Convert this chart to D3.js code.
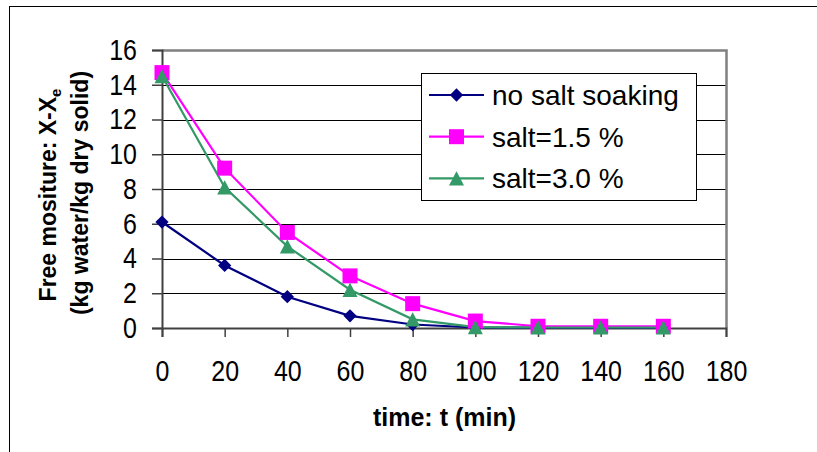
<!DOCTYPE html>
<html>
<head>
<meta charset="utf-8">
<script src="https://cdn.jsdelivr.net/npm/d3@7/dist/d3.min.js"></script>
<style>
  html, body { margin: 0; padding: 0; background: #fff; }
  svg { display: block; font-family: Arial, "Liberation Sans", sans-serif; }
</style>
</head>
<body>
<svg id="chart" width="817" height="452"></svg>
<script>
// Drying time (min)
const times = [0, 20, 40, 60, 80, 100, 120, 140, 160];
// Free moisture X - Xe (kg water / kg dry solid)
const noSalt  = [6.1, 3.6, 1.8, 0.7, 0.2, 0.03, 0.02, 0.02, 0.02];
const salt15  = [14.7, 9.2, 5.5, 3.0, 1.4, 0.4, 0.1, 0.1, 0.1];
const salt30  = [14.5, 8.1, 4.7, 2.2, 0.5, 0.05, 0.03, 0.03, 0.03];
const seriesNames = ["no salt soaking", "salt=1.5 %", "salt=3.0 %"];
const xTicks = [0, 20, 40, 60, 80, 100, 120, 140, 160, 180];
const yTicks = [0, 2, 4, 6, 8, 10, 12, 14, 16];

// upright triangle centred on its bounding box
const boxTriangle = {
  draw(ctx, size) {
    const w = Math.sqrt(size) / 2, h = w * 0.95;
    ctx.moveTo(0, -h);
    ctx.lineTo(w, h);
    ctx.lineTo(-w, h);
    ctx.closePath();
  }
};

const series = [
  { name: seriesNames[0], values: noSalt, color: "#000080", symbol: d3.symbolDiamond2, size: 112 },
  { name: seriesNames[1], values: salt15, color: "#FF00FF", symbol: d3.symbolSquare,  size: 225 },
  { name: seriesNames[2], values: salt30, color: "#339966", symbol: boxTriangle,      size: 225 }
];

const svg = d3.select("#chart");
const plotL = 162, plotR = 726, plotT = 50, plotB = 328;
const tickFont = 25, tickStretch = 1.17;

const x = d3.scaleLinear().domain([0, 180]).range([plotL, plotR]);
const y = d3.scaleLinear().domain([0, 16]).range([plotB, plotT]);

// outer chart-area frame
svg.append("rect")
  .attr("x", 9.5).attr("y", 6.5).attr("width", 900).attr("height", 500)
  .attr("fill", "none").attr("stroke", "#000").attr("stroke-width", 1);

// horizontal gridlines
svg.append("g")
  .selectAll("line")
  .data(yTicks.filter(v => v > 0 && v < 16))
  .join("line")
  .attr("x1", plotL).attr("x2", plotR)
  .attr("y1", d => Math.round(y(d)) + 0.5).attr("y2", d => Math.round(y(d)) + 0.5)
  .attr("stroke", "#000").attr("stroke-width", 1);

// plot frame (top / right)
svg.append("path")
  .attr("d", `M${plotL},${plotT + 0.5}H${plotR + 0.5}V${plotB}`)
  .attr("fill", "none").attr("stroke", "#808080").attr("stroke-width", 2.5);

// y axis
const yAxis = svg.append("g")
  .attr("transform", `translate(${plotL},0)`)
  .call(d3.axisLeft(y).tickValues(yTicks).tickSize(10).tickPadding(15).tickFormat(d3.format("d")));
yAxis.select(".domain").attr("stroke", "#404040").attr("stroke-width", 2);
yAxis.selectAll(".tick line").attr("stroke", "#404040").attr("stroke-width", 1.5);
yAxis.selectAll(".tick text")
  .attr("font-size", tickFont).attr("fill", "#000")
  .attr("font-family", "Arial, 'Liberation Sans', sans-serif")
  .attr("transform", `scale(1,${tickStretch})`);

// x axis
const xAxis = svg.append("g")
  .attr("transform", `translate(0,${plotB})`)
  .call(d3.axisBottom(x).tickValues(xTicks).tickSize(9).tickPadding(18.5).tickFormat(d3.format("d")));
xAxis.select(".domain").attr("stroke", "#404040").attr("stroke-width", 2);
xAxis.selectAll(".tick line").attr("stroke", "#404040").attr("stroke-width", 1.5);
xAxis.selectAll(".tick text")
  .attr("font-size", tickFont).attr("fill", "#000")
  .attr("font-family", "Arial, 'Liberation Sans', sans-serif")
  .attr("transform", `scale(1,${tickStretch})`);

// axis titles
svg.append("text")
  .attr("x", 444.5).attr("y", 426)
  .attr("text-anchor", "middle")
  .attr("font-size", 25).attr("font-weight", "bold")
  .text("time: t (min)");

const t1 = svg.append("text")
  .attr("transform", "translate(55.5,195) rotate(-90)")
  .attr("text-anchor", "middle")
  .attr("font-size", 23).attr("font-weight", "bold");
t1.append("tspan").text("Free mositure: X-X");
t1.append("tspan").attr("font-size", 15).attr("dy", 5).text("e");
svg.append("text")
  .attr("transform", "translate(87.5,193) rotate(-90)")
  .attr("text-anchor", "middle")
  .attr("font-size", 23).attr("font-weight", "bold")
  .text("(kg water/kg dry solid)");

// series lines and markers
const line = d3.line().x((d, i) => x(times[i])).y(d => y(d));
series.forEach(s => {
  svg.append("path")
    .datum(s.values)
    .attr("d", line)
    .attr("fill", "none")
    .attr("stroke", s.color)
    .attr("stroke-width", 2.2);
});
series.forEach(s => {
  svg.append("g")
    .selectAll("path")
    .data(s.values)
    .join("path")
    .attr("transform", (d, i) => `translate(${x(times[i])},${y(d)})`)
    .attr("d", d3.symbol().type(s.symbol).size(s.size))
    .attr("fill", s.color);
});

// legend
const lg = svg.append("g");
lg.append("rect")
  .attr("x", 421.5).attr("y", 73.5).attr("width", 275).attr("height", 127)
  .attr("fill", "#fff").attr("stroke", "#000").attr("stroke-width", 1);
series.forEach((s, i) => {
  const cy = 95 + i * 41.7;
  lg.append("line")
    .attr("x1", 429).attr("x2", 484).attr("y1", cy).attr("y2", cy)
    .attr("stroke", s.color).attr("stroke-width", 2.2);
  lg.append("path")
    .attr("transform", `translate(456.5,${cy})`)
    .attr("d", d3.symbol().type(s.symbol).size(s.size))
    .attr("fill", s.color);
  lg.append("text")
    .attr("x", 492).attr("y", cy + 10)
    .attr("font-size", 28)
    .text(s.name);
});
</script>
</body>
</html>
